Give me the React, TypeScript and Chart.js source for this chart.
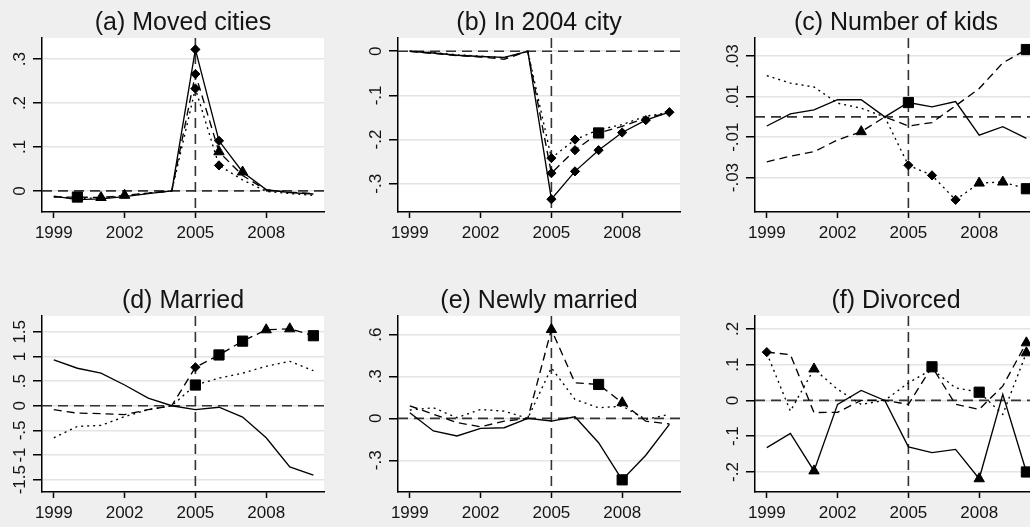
import { useEffect, useRef } from "react";
import { Chart, registerables } from "chart.js";

Chart.register(...registerables);

// ---------- shared axis data ----------
const years = [1999, 2000, 2001, 2002, 2003, 2004, 2005, 2006, 2007, 2008, 2009, 2010];
const xTickValues = [1999, 2002, 2005, 2008];
const eventYear = 2005;
const xRange = [1998.5, 2010.45];

// Marker codes per year: "." none, "D" diamond, "S" square, "T" triangle

// ---------- (a) Moved cities ----------
const aTitle = "(a) Moved cities";
const aYTicks = [0, 0.1, 0.2, 0.3];
const aYLabels = ["0", ".1", ".2", ".3"];
const aYRange = [-0.048, 0.348];
const aSolid = [-0.012, -0.02, -0.018, -0.013, -0.006, 0, 0.322, 0.114, 0.043, 0.003, -0.004, -0.007];
const aLong = [-0.014, -0.014, -0.015, -0.01, -0.005, 0, 0.266, 0.089, 0.035, 0.002, -0.003, -0.006];
const aShort = [-0.013, -0.017, -0.016, -0.012, -0.005, 0, 0.233, 0.058, 0.025, -0.001, -0.006, -0.01];
const aSolidM = "......DDT...";
const aLongM = ".STT..DT....";
const aShortM = "......DD....";

// ---------- (b) In 2004 city ----------
const bTitle = "(b) In 2004 city";
const bYTicks = [-0.3, -0.2, -0.1, 0];
const bYLabels = ["-.3", "-.2", "-.1", "0"];
const bYRange = [-0.364, 0.03];
const bSolid = [0, -0.004, -0.009, -0.012, -0.014, 0, -0.335, -0.272, -0.224, -0.184, -0.156, -0.138];
const bLong = [0, -0.005, -0.01, -0.013, -0.018, 0, -0.276, -0.224, -0.185, -0.17, -0.151, -0.139];
const bShort = [0, -0.003, -0.008, -0.011, -0.015, 0, -0.242, -0.2, -0.178, -0.166, -0.147, -0.139];
const bSolidM = "......DDDDDD";
const bLongM = "......DDS...";
const bShortM = "......DD....";

// ---------- (c) Number of kids ----------
const cTitle = "(c) Number of kids";
const cYTicks = [-0.03, -0.01, 0.01, 0.03];
const cYLabels = ["-.03", "-.01", ".01", ".03"];
const cYRange = [-0.047, 0.039];
const cSolid = [-0.0045, 0.0015, 0.0035, 0.0085, 0.0085, 0, 0.0071, 0.005, 0.0076, -0.009, -0.0048, -0.0106];
const cLong = [-0.0222, -0.0194, -0.0172, -0.0114, -0.0073, 0, -0.0045, -0.0028, 0.0055, 0.014, 0.0267, 0.0333];
const cShort = [0.0204, 0.0167, 0.0148, 0.0068, 0.0043, 0, -0.0239, -0.0289, -0.041, -0.0327, -0.0322, -0.0355];
const cSolidM = "......S.....";
const cLongM = "....T......S";
const cShortM = "......DDDTTS";

// ---------- (d) Married ----------
const dTitle = "(d) Married";
const dYTicks = [-1.5, -1, -0.5, 0, 0.5, 1, 1.5];
const dYLabels = ["-1.5", "-1", "-.5", "0", ".5", "1", "1.5"];
const dYRange = [-1.75, 1.82];
const dSolid = [0.93, 0.76, 0.66, 0.42, 0.155, 0, -0.08, -0.03, -0.23, -0.65, -1.24, -1.41];
const dLong = [-0.08, -0.15, -0.16, -0.18, -0.08, 0, 0.78, 1.03, 1.31, 1.54, 1.56, 1.42];
const dShort = [-0.65, -0.42, -0.4, -0.22, -0.08, 0, 0.42, 0.56, 0.66, 0.8, 0.9, 0.71];
const dSolidM = "............";
const dLongM = "......DSSTTS";
const dShortM = "......S.....";

// ---------- (e) Newly married ----------
const eTitle = "(e) Newly married";
const eYTicks = [-0.3, 0, 0.3, 0.6];
const eYLabels = ["-.3", "0", ".3", ".6"];
const eYRange = [-0.527, 0.733];
const eSolid = [0.04, -0.09, -0.126, -0.071, -0.067, 0, -0.019, 0.012, -0.174, -0.44, -0.264, -0.043];
const eLong = [0.09, 0.03, -0.03, -0.06, -0.02, 0, 0.636, 0.255, 0.243, 0.112, -0.02, -0.04];
const eShort = [0.06, 0.076, 0.005, 0.064, 0.052, 0, 0.362, 0.136, 0.076, 0.088, -0.007, 0.029];
const eSolidM = ".........S..";
const eLongM = "......T.ST..";
const eShortM = "............";

// ---------- (f) Divorced ----------
const fTitle = "(f) Divorced";
const fYTicks = [-0.2, -0.1, 0, 0.1, 0.2];
const fYLabels = ["-.2", "-.1", "0", ".1", ".2"];
const fYRange = [-0.256, 0.236];
const fSolid = [-0.132, -0.092, -0.197, -0.011, 0.028, 0, -0.13, -0.146, -0.137, -0.219, 0.017, -0.2];
const fLong = [0.135, 0.128, -0.034, -0.033, 0.0, 0, -0.011, 0.094, -0.011, -0.025, 0.04, 0.161];
const fShort = [0.132, -0.03, 0.088, 0.031, -0.011, 0, 0.049, 0.087, 0.035, 0.023, -0.039, 0.133];
const fSolidM = "..T......T.S";
const fLongM = "D......S...T";
const fShortM = "..T......S.T";

const panels = [
  { title: aTitle, yTicks: aYTicks, yLabels: aYLabels, yRange: aYRange, series: [aSolid, aLong, aShort], markers: [aSolidM, aLongM, aShortM] },
  { title: bTitle, yTicks: bYTicks, yLabels: bYLabels, yRange: bYRange, series: [bSolid, bLong, bShort], markers: [bSolidM, bLongM, bShortM] },
  { title: cTitle, yTicks: cYTicks, yLabels: cYLabels, yRange: cYRange, series: [cSolid, cLong, cShort], markers: [cSolidM, cLongM, cShortM] },
  { title: dTitle, yTicks: dYTicks, yLabels: dYLabels, yRange: dYRange, series: [dSolid, dLong, dShort], markers: [dSolidM, dLongM, dShortM] },
  { title: eTitle, yTicks: eYTicks, yLabels: eYLabels, yRange: eYRange, series: [eSolid, eLong, eShort], markers: [eSolidM, eLongM, eShortM] },
  { title: fTitle, yTicks: fYTicks, yLabels: fYLabels, yRange: fYRange, series: [fSolid, fLong, fShort], markers: [fSolidM, fLongM, fShortM] },
];

const FONT = "'Liberation Sans', Arial, Helvetica, sans-serif";
const TEXT = "#141414";
const lineDashes: number[][] = [[], [8, 5], [2, 4]];
const styleFor: Record<string, string> = { D: "rectRot", S: "rect", T: "triangle" };
const radiusFor: Record<string, number> = { D: 4.6, S: 7.2, T: 6 };

const decorPlugin = {
  id: "panelDecor",
  beforeDraw(chart: any) {
    const { ctx, chartArea: a } = chart;
    ctx.save();
    ctx.fillStyle = "#ffffff";
    ctx.fillRect(a.left, a.top, a.right - a.left, a.bottom - a.top);
    ctx.restore();
  },
  beforeDatasetsDraw(chart: any, _args: any, opts: any) {
    const { ctx, chartArea: a, scales } = chart;
    const y0 = scales.y.getPixelForValue(0);
    const xe = scales.x.getPixelForValue(opts.eventYear);
    ctx.save();
    ctx.beginPath();
    ctx.rect(a.left, a.top, a.right - a.left, a.bottom - a.top);
    ctx.clip();
    ctx.strokeStyle = "#333333";
    ctx.lineWidth = 1.6;
    ctx.setLineDash([10, 6]);
    ctx.beginPath();
    ctx.moveTo(a.left, y0);
    ctx.lineTo(a.right, y0);
    ctx.stroke();
    ctx.beginPath();
    ctx.moveTo(xe, a.top);
    ctx.lineTo(xe, a.bottom);
    ctx.stroke();
    ctx.restore();
  },
  afterDraw(chart: any, _args: any, opts: any) {
    const { ctx, chartArea: a, scales } = chart;
    ctx.save();
    ctx.fillStyle = TEXT;
    ctx.font = `25px ${FONT}`;
    ctx.textAlign = "center";
    ctx.textBaseline = "alphabetic";
    ctx.fillText(opts.title, (a.left + a.right) / 2, a.top - 8.5);
    ctx.font = `17px ${FONT}`;
    opts.yTicks.forEach((v: number, i: number) => {
      const py = scales.y.getPixelForValue(v);
      ctx.save();
      ctx.translate(a.left - 17.5, py);
      ctx.rotate(-Math.PI / 2);
      ctx.textAlign = "center";
      ctx.textBaseline = "alphabetic";
      ctx.fillText(opts.yLabels[i], 0, 0);
      ctx.restore();
    });
    ctx.restore();
  },
};

function makeDataset(values: number[], markers: string, dash: number[]) {
  const codes = markers.split("");
  return {
    data: years.map((yr, i) => ({ x: yr, y: values[i] })),
    borderColor: "#000000",
    borderWidth: 1.35,
    borderDash: dash,
    backgroundColor: "#000000",
    pointStyle: codes.map((c) => styleFor[c] || "circle"),
    pointRadius: codes.map((c) => radiusFor[c] || 0),
    pointBackgroundColor: "#000000",
    pointBorderColor: "#000000",
    pointBorderWidth: 1,
    tension: 0,
    fill: false,
  };
}

type PanelProps = {
  panel: (typeof panels)[number];
  left: number;
  top: number;
  width: number;
  height: number;
  padBottom: number;
};

function PanelChart({ panel, left, top, width, height, padBottom }: PanelProps) {
  const ref = useRef<HTMLCanvasElement>(null);
  useEffect(() => {
    if (!ref.current) return;
    const chart = new Chart(ref.current, {
      type: "line",
      data: {
        datasets: panel.series.map((s, i) => makeDataset(s, panel.markers[i], lineDashes[i])) as any,
      },
      options: {
        animation: false,
        responsive: false,
        devicePixelRatio: 1,
        events: [],
        layout: { padding: { left: 0, top: 38, right: 21, bottom: padBottom } },
        plugins: {
          legend: { display: false },
          tooltip: { enabled: false },
          title: { display: false },
          panelDecor: {
            title: panel.title,
            yTicks: panel.yTicks,
            yLabels: panel.yLabels,
            eventYear,
          },
        } as any,
        scales: {
          x: {
            type: "linear",
            min: xRange[0],
            max: xRange[1],
            afterBuildTicks: (s: any) => {
              s.ticks = xTickValues.map((v) => ({ value: v }));
            },
            afterFit: (s: any) => {
              s.height = 30;
            },
            grid: {
              display: true,
              drawOnChartArea: false,
              drawTicks: true,
              tickLength: 6,
              tickColor: "#000000",
              tickWidth: 1.5,
            },
            border: { display: true, color: "#000000", width: 1.5 },
            ticks: {
              padding: 5,
              color: TEXT,
              font: { family: FONT, size: 17 },
              maxRotation: 0,
              minRotation: 0,
              autoSkip: false,
              callback: (v: any) => String(v),
            },
          },
          y: {
            type: "linear",
            min: panel.yRange[0],
            max: panel.yRange[1],
            afterBuildTicks: (s: any) => {
              s.ticks = panel.yTicks.map((v) => ({ value: v }));
            },
            afterFit: (s: any) => {
              s.width = 42;
            },
            grid: {
              display: true,
              drawOnChartArea: true,
              drawTicks: true,
              color: "#e4e4e4",
              lineWidth: 1.5,
              tickLength: 9,
              tickColor: "#000000",
              tickWidth: 1.5,
            },
            border: { display: true, color: "#000000", width: 1.5 },
            ticks: { display: false },
          },
        } as any,
      },
      plugins: [decorPlugin as any],
    });
    return () => chart.destroy();
  }, [panel, padBottom]);
  return (
    <canvas
      ref={ref}
      width={width}
      height={height}
      style={{ position: "absolute", left, top, width, height, display: "block" }}
    />
  );
}

const colLefts = [0, 356, 713];
const rowTops = [0, 278];
const rowHeights = [263, 249];
const rowPadBottom = [21, 5];
const PANEL_W = 345;

export default function App() {
  return (
    <div
      style={{
        position: "fixed",
        left: 0,
        top: 0,
        width: 1030,
        height: 527,
        overflow: "hidden",
        background: "#efefef",
      }}
    >
      {panels.map((p, i) => {
        const r = Math.floor(i / 3);
        const c = i % 3;
        return (
          <PanelChart
            key={i}
            panel={p}
            left={colLefts[c]}
            top={rowTops[r]}
            width={PANEL_W}
            height={rowHeights[r]}
            padBottom={rowPadBottom[r]}
          />
        );
      })}
    </div>
  );
}
